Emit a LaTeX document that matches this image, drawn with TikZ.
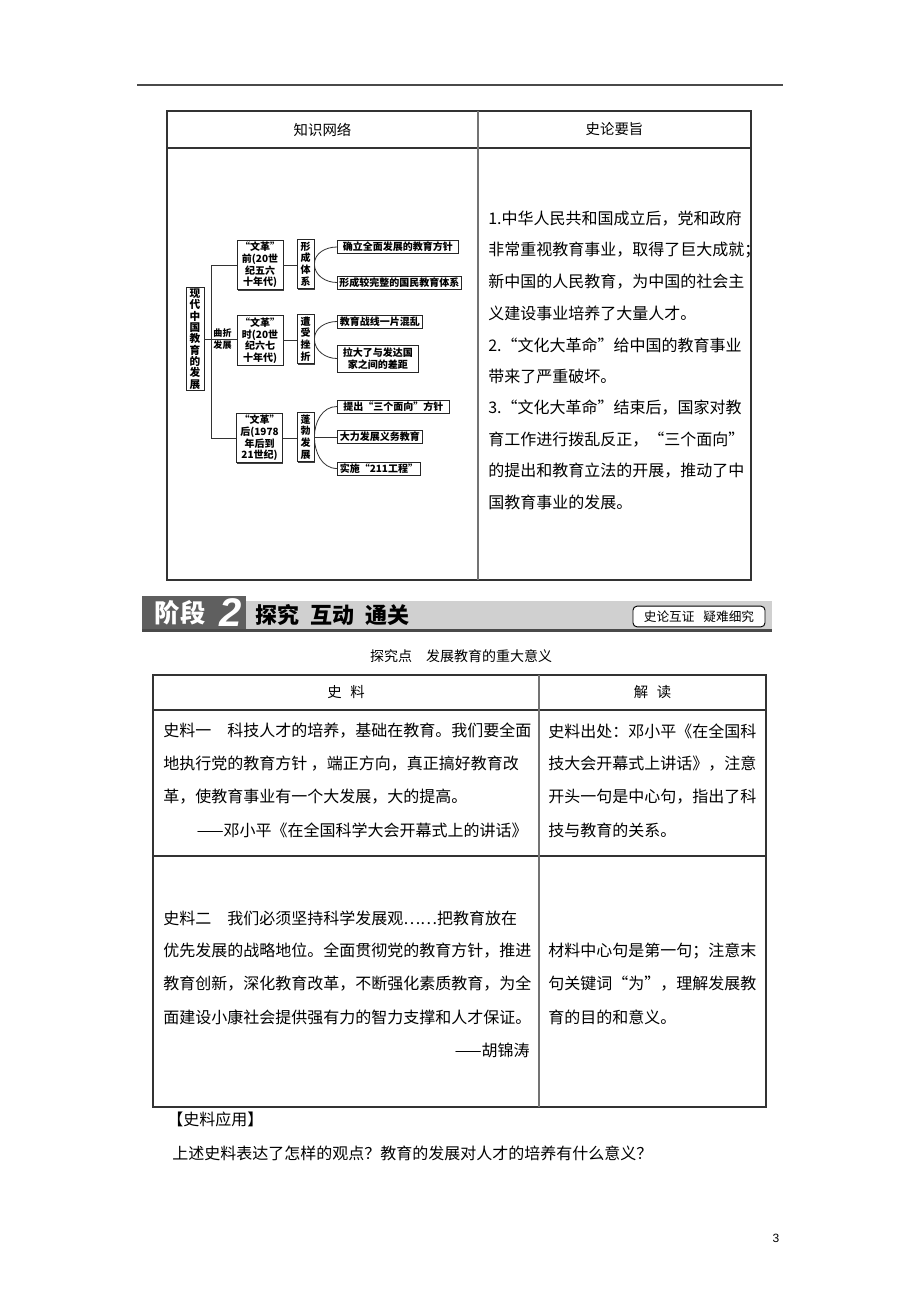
\documentclass[tikz,border=0pt]{standalone}
\usepackage{fontspec}
\setmainfont{Noto Sans CJK SC}
\newfontfamily\numfont{Liberation Sans}
\usetikzlibrary{shadows}
\definecolor{bandgray}{HTML}{D0D0D0}
\definecolor{tagdark}{HTML}{5F5F5F}
\definecolor{rulegray}{HTML}{4A4A4A}

\newcommand\bodytext{\fontsize{12}{14}\selectfont}
\newcommand\headtext{\fontsize{10.8}{13}\selectfont}
\newcommand\maptext{\fontsize{7.5}{8.7}\selectfont}

\tikzset{
  tabline/.style={draw=black!80, line width=0.8pt},
  row/.style={anchor=west, inner sep=0pt, font=\bodytext},
  head/.style={inner sep=0pt, font=\headtext},
  mapbox/.style={draw=black!85, fill=white, line width=0.6pt, inner sep=1pt,
    font=\maptext\bfseries, align=center,
    drop shadow={shadow xshift=0.7pt, shadow yshift=-0.7pt, fill=black!75, opacity=1}},
  erabox/.style={mapbox, minimum width=34.5pt, minimum height=37pt},
  vertbox/.style={mapbox, minimum width=12.75pt, minimum height=37pt},
  leafbox/.style={mapbox, anchor=west, inner xsep=1.5pt, minimum height=9.75pt},
  link/.style={draw=black!80, line width=0.6pt},
}

\begin{document}
\begin{tikzpicture}[x=0.75pt, y=-0.75pt]
  \useasboundingbox (0,0) rectangle (920,1302);
  \fill[white] (0,0) rectangle (920,1302);

  % page rule
  \draw[rulegray, line width=1.5pt] (137,85) -- (783,85);

  % first table
  \draw[tabline] (167,111) rectangle (751,580);
  \draw[tabline] (167,148) -- (751,148);
  \draw[tabline, draw=black!55] (478,111) -- (478,580);
  \node[head] (netHead) at (322.5,129.5) {知识网络};
  \node[head] (keyHead) at (614.5,129.5) {史论要旨};

  % knowledge network
  \node[mapbox, minimum width=13.5pt, minimum height=76.5pt, font=\fontsize{8}{8.5}\selectfont\bfseries]
    (root) at (195,339) {现\\代\\中\\国\\教\\育\\的\\发\\展};
  \node[erabox] (eraA) at (260,265) {“文革”\\前(20世\\纪五六\\十年代)};
  \node[erabox] (eraB) at (260,340.5) {“文革”\\时(20世\\纪六七\\十年代)};
  \node[erabox] (eraC) at (259.5,438) {“文革”\\后(1978\\年后到\\21世纪)};
  \node[vertbox] (formA) at (305.5,264) {形\\成\\体\\系};
  \node[vertbox] (hitB) at (305.5,339) {遭\\受\\挫\\折};
  \node[vertbox] (growC) at (305.5,437) {蓬\\勃\\发\\展};
  \node[leafbox, minimum width=90.75pt] (leafA1) at (337,247) {确立全面发展的教育方针};
  \node[leafbox, minimum width=93pt] (leafA2) at (337,282.5) {形成较完整的国民教育体系};
  \node[leafbox, minimum width=63.75pt] (leafB1) at (337,321.5) {教育战线一片混乱};
  \node[leafbox, minimum width=60.75pt, minimum height=20.25pt] (leafB2) at (337,358.5)
    {拉大了与发达国\\家之间的差距};
  \node[leafbox, minimum width=84pt] (leafC1) at (337,406.5) {提出“三个面向”方针};
  \node[leafbox, minimum width=63.75pt] (leafC2) at (337,436.5) {大力发展义务教育};
  \node[leafbox, minimum width=62.25pt] (leafC3) at (337,468.5) {实施“211工程”};

  \draw[link] (root.east) -- (root.east -| eraB.west);
  \draw[link] (eraA.west) -- ++(-25,0) coordinate (trunk) |- (eraC.west);
  \node[inner sep=0pt, align=center, font=\fontsize{6.8}{9}\selectfont\bfseries]
    (zigzag) at (222.5,339) {曲折\\发展};
  \draw[link] (eraA.east) -- (eraA.east -| formA.west);
  \draw[link] (eraB.east) -- (eraB.east -| hitB.west);
  \draw[link] (eraC.east) -- (eraC.east -| growC.west);
  \draw[link] (formA.east) to[out=90, in=180] (leafA1.west);
  \draw[link] (formA.east) to[out=-90, in=180] (leafA2.west);
  \draw[link] (hitB.east) to[out=90, in=180] (leafB1.west);
  \draw[link] (hitB.east) to[out=-90, in=180] (leafB2.west);
  \draw[link] (growC.east) to[out=90, in=180] (leafC1.west);
  \draw[link] (growC.east) -- (growC.east -| leafC2.west);
  \draw[link] (growC.east) to[out=-90, in=180] (leafC3.west);

  % key points
  \foreach \y/\t in {219/1.中华人民共和国成立后，党和政府,
      250.5/非常重视教育事业，取得了巨大成就；,
      282/新中国的人民教育，为中国的社会主,
      313.5/义建设事业培养了大量人才。,
      345/2.“文化大革命”给中国的教育事业,
      376.5/带来了严重破坏。,
      408/3.“文化大革命”结束后，国家对教,
      439.5/育工作进行拨乱反正，“三个面向”,
      471/的提出和教育立法的开展，推动了中,
      502.5/国教育事业的发展。} {
    \node[row] at (488,\y) {\t};
  }

  % stage banner
  \fill[bandgray] (245,601) rectangle (772,629);
  \fill[tagdark] (142,596) rectangle (246,629);
  \fill[rulegray] (142,629) rectangle (772,632);
  \node[inner sep=0pt, text=white, font=\fontsize{19}{20}\selectfont\bfseries] (stage) at (180,613) {阶段};
  \node[inner sep=0pt, text=white, font=\numfont\fontsize{30}{30}\selectfont\bfseries\itshape] (stageNo) at (231,613) {2};
  \node[anchor=west, inner sep=0pt, font=\fontsize{16.5}{18}\selectfont\bfseries] (bandTitle) at (255,615)
    {探究\hspace{0.5em}互动\hspace{0.5em}通关};
  \node[draw, line width=0.7pt, fill=white, rounded corners=3pt, minimum width=99pt, minimum height=15.5pt,
    inner sep=0pt, font=\fontsize{9.5}{11}\selectfont] (bandTag) at (699,616.5) {史论互证\hspace{0.7em}疑难细究};

  \node[inner sep=0pt, font=\fontsize{10.5}{12}\selectfont] (topic) at (461,656)
    {探究点\hspace{1em}发展教育的重大意义};

  % second table
  \draw[tabline] (153,675) rectangle (766,1107);
  \draw[tabline] (153,710) -- (766,710);
  \draw[tabline] (153,856) -- (766,856);
  \draw[tabline, draw=black!55] (539,675) -- (539,1107);
  \node[head] (srcHead) at (346,692.5) {史\hspace{0.6em}料};
  \node[head] (readHead) at (652.5,692.5) {解\hspace{0.6em}读};

  \foreach \y/\t in {731/史料一\hspace{1em}科技人才的培养，基础在教育。我们要全面,
      764/地执行党的教育方针\ ，端正方向，真正搞好教育改,
      797/革，使教育事业有一个大发展，大的提高。,
      918/史料二\hspace{1em}我们必须坚持科学发展观……把教育放在,
      951/优先发展的战略地位。全面贯彻党的教育方针，推进,
      984/教育创新，深化教育改革，不断强化素质教育，为全,
      1017/面建设小康社会提供强有力的智力支撑和人才保证。} {
    \node[row] at (163,\y) {\t};
  }
  \node[row, anchor=east] (deng) at (528,830) {——邓小平《在全国科学大会开幕式上的讲话》};
  \node[row, anchor=east] (hu) at (530,1050) {——胡锦涛};

  \foreach \y/\t in {731/史料出处：邓小平《在全国科,
      764/技大会开幕式上讲话》，注意,
      797/开头一句是中心句，指出了科,
      830/技与教育的关系。,
      951/材料中心句是第一句；注意末,
      984/句关键词“为”，理解发展教,
      1017/育的目的和意义。} {
    \node[row] at (548,\y) {\t};
  }

  % application
  \node[row] (applyHead) at (167,1119) {【史料应用】};
  \node[row] (question) at (172,1153) {上述史料表达了怎样的观点？教育的发展对人才的培养有什么意义？};

  \node[inner sep=0pt, font=\numfont\fontsize{9}{10}\selectfont] (pageNo) at (776,1238) {3};
\end{tikzpicture}
\end{document}
